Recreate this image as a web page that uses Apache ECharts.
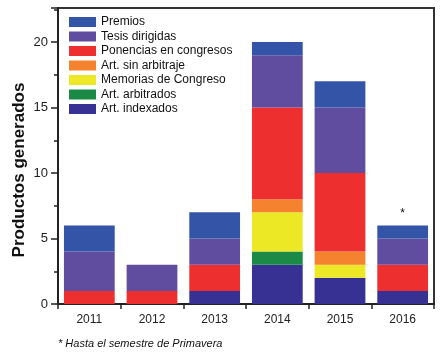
<!DOCTYPE html>
<html>
<head>
<meta charset="utf-8">
<script src="https://cdn.jsdelivr.net/npm/echarts@6/dist/echarts.min.js"></script>
<style>html,body{margin:0;padding:0;background:#fff;}#c{width:443px;height:358px;}</style>
</head>
<body>
<div id="c"></div>
<script>
const years = ['2011', '2012', '2013', '2014', '2015', '2016'];
const indexados = [0, 0, 1, 3, 2, 1];
const arbitrados = [0, 0, 0, 1, 0, 0];
const memorias = [0, 0, 0, 3, 1, 0];
const sinArbitraje = [0, 0, 0, 1, 1, 0];
const ponencias = [1, 1, 2, 7, 6, 2];
const tesis = [3, 2, 2, 4, 5, 2];
const premios = [2, 0, 2, 1, 2, 1];
const yTicks = [0, 5, 10, 15, 20];

const seriesDefs = [
  {name: 'Art. indexados', data: indexados, color: '#363193'},
  {name: 'Art. arbitrados', data: arbitrados, color: '#1b8a46'},
  {name: 'Memorias de Congreso', data: memorias, color: '#ece826'},
  {name: 'Art. sin arbitraje', data: sinArbitraje, color: '#f4822f'},
  {name: 'Ponencias en congresos', data: ponencias, color: '#ee2f2f'},
  {name: 'Tesis dirigidas', data: tesis, color: '#614d9f'},
  {name: 'Premios', data: premios, color: '#3455a7'}
];

const font = 'Liberation Sans, Arial, sans-serif';
const chart = echarts.init(document.getElementById('c'), null, {renderer: 'canvas'});

const series = seriesDefs.map((s, i) => {
  const o = {
    name: s.name, type: 'bar', stack: 'total', barCategoryGap: '19%',
    itemStyle: {color: s.color},
    data: s.data.map(v => v === 0 ? null : v)
  };
  if (i === seriesDefs.length - 1) {
    o.data = s.data.map((v, j) => j === years.length - 1
      ? {value: v, label: {show: true, position: 'top', formatter: '*', distance: 6, color: '#111', fontSize: 12, fontFamily: font}}
      : v);
  }
  return o;
});

chart.setOption({
  animation: false,
  textStyle: {fontFamily: font},
  grid: {left: 58, right: 9, top: 8, bottom: 54, show: true, borderColor: '#333', borderWidth: 2, backgroundColor: 'transparent'},
  legend: {
    orient: 'vertical', left: 69, top: 16, padding: 0,
    itemWidth: 27, itemHeight: 10, itemGap: 2.5,
    data: seriesDefs.slice().reverse().map(s => s.name),
    textStyle: {fontSize: 12, color: '#111', fontFamily: font},
    icon: 'rect'
  },
  xAxis: [
    {type: 'category', data: years, position: 'bottom',
     axisLine: {lineStyle: {color: '#222', width: 2}},
     axisTick: {alignWithLabel: true, length: 6, lineStyle: {color: '#222', width: 1.5}},
     axisLabel: {fontSize: 12, color: '#222', margin: 10, fontFamily: font}},
    {type: 'category', data: years, position: 'bottom',
     axisLine: {show: false},
     axisTick: {show: true, length: 5, lineStyle: {color: '#222', width: 1.5}},
     axisLabel: {show: false}}
  ],
  yAxis: {
    type: 'value', min: 0, max: 22.6, interval: 5,
    axisLine: {show: true, lineStyle: {color: '#222', width: 2}},
    axisTick: {show: true, length: 7, lineStyle: {color: '#222', width: 1.5}},
    minorTick: {show: true, splitNumber: 2, length: 4, lineStyle: {color: '#222', width: 1.5}},
    splitLine: {show: false},
    axisLabel: {fontSize: 13, color: '#222', margin: 10, fontFamily: font,
      formatter: v => yTicks.indexOf(v) >= 0 ? String(v) : ''}
  },
  graphic: [
    {type: 'text', x: 19, y: 170, rotation: Math.PI / 2,
     style: {text: 'Productos generados', font: 'bold 17px ' + font, fill: '#111', align: 'center', verticalAlign: 'middle'}},
    {type: 'text', left: 58, top: 338,
     style: {text: '* Hasta el semestre de Primavera', font: 'italic 11px ' + font, fill: '#111'}}
  ],
  series: series
});
</script>
</body>
</html>
